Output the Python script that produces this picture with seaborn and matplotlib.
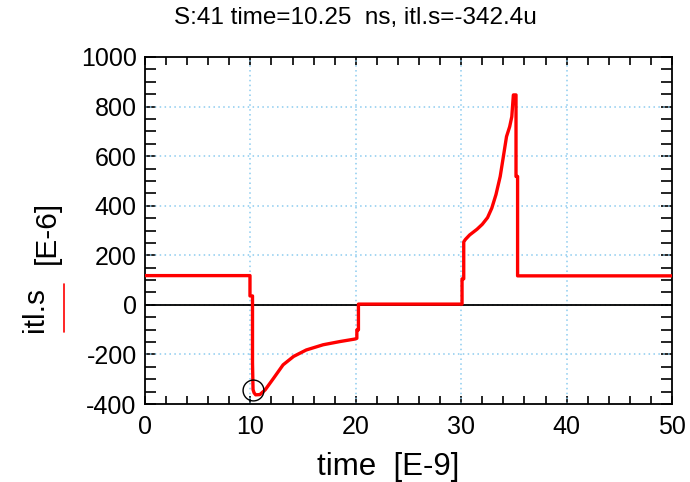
import matplotlib
matplotlib.use("Agg")
import matplotlib.pyplot as plt
from matplotlib.lines import Line2D
from matplotlib.ticker import MultipleLocator
import seaborn as sns
import pandas as pd

# ---- data ----
time_ns = [0, 9.96, 9.96, 10.2, 10.2, 10.25, 10.35, 10.5, 10.9, 11.4, 12.2, 13.1,
           14.1, 15.3, 16.9, 18.5, 19.9, 20.1, 20.1, 20.25, 20.25, 30.08, 30.08,
           30.24, 30.24, 30.4, 30.8, 31.5, 32.0, 32.5, 32.9, 33.3, 33.7, 34.0, 34.3,
           34.6, 34.8, 34.95, 35.2, 35.2, 35.35, 35.35, 50]
itl_s = [118, 118, 36, 36, -233, -342, -355, -363, -362, -343, -296, -242,
         -208, -182, -161, -148, -138, -135, -101, -101, 3, 3, 105,
         105, 254, 264, 282, 305, 325, 352, 390, 445, 518, 598, 679,
         719, 759, 847, 847, 518, 518, 117, 117]
cursor_t = 10.25
cursor_v = -342.4
x_ticks = [0, 10, 20, 30, 40, 50]
y_ticks = [-400, -200, 0, 200, 400, 600, 800, 1000]

df = pd.DataFrame({"time": time_ns, "itl.s": itl_s})

sns.set_theme(style="ticks")
plt.rcParams["font.family"] = ["Liberation Sans", "DejaVu Sans"]
plt.rcParams["axes.unicode_minus"] = False
plt.rcParams["text.color"] = "black"
plt.rcParams["xtick.color"] = "black"
plt.rcParams["ytick.color"] = "black"
plt.rcParams["xtick.labelcolor"] = "black"
plt.rcParams["ytick.labelcolor"] = "black"

W, H = 690, 482
fig = plt.figure(figsize=(W / 100, H / 100), dpi=100)
ax = fig.add_axes([145 / W, 1 - 404 / H, 527 / W, 347 / H])

grid_color = "#8ccbef"
for xv in x_ticks[1:-1]:
    ax.axvline(xv, color=grid_color, lw=1.1, ls=(0, (1, 2.2)), zorder=1)
for yv in y_ticks[1:-1]:
    ax.axhline(yv, color=grid_color, lw=1.1, ls=(0, (1, 2.2)), zorder=1)
ax.axhline(0, color="black", lw=1.3, zorder=2)

sns.lineplot(data=df, x="time", y="itl.s", ax=ax, color="#ff0000", lw=2.4,
             estimator=None, sort=False, zorder=3)
ax.plot([cursor_t], [cursor_v], marker="o", ms=15, mfc="none", mec="black",
        mew=1.0, zorder=4)

ax.set_xlim(x_ticks[0], x_ticks[-1])
ax.set_ylim(y_ticks[0], y_ticks[-1])
ax.set_xticks(x_ticks)
ax.set_yticks(y_ticks)
ax.xaxis.set_minor_locator(MultipleLocator(2))
ax.yaxis.set_minor_locator(MultipleLocator(50))
ax.tick_params(which="both", direction="in", top=True, right=True,
               color="black", width=1.2, labelcolor="black")
ax.tick_params(axis="y", which="both", length=8)
ax.tick_params(axis="x", which="both", length=6)
ax.tick_params(axis="y", labelsize=18, pad=6)
ax.tick_params(axis="x", labelsize=18, pad=8)
ax.set_xlabel("")
ax.set_ylabel("")
for s in ax.spines.values():
    s.set_color("black")
    s.set_linewidth(1.3)

fig.text(355 / W, 1 - 18 / H, "S:41 time=10.25  ns, itl.s=-342.4u",
         ha="center", va="center", fontsize=17.5, color="black")
fig.text(388 / W, 1 - 467 / H, "time  [E-9]", ha="center", va="center",
         fontsize=22.5, color="black")
fig.text(35 / W, 1 - 309 / H, "itl.s", ha="center", va="center",
         rotation=90, fontsize=21.5, color="black")
fig.text(47 / W, 1 - 232 / H, "[E-6]", ha="center", va="center",
         rotation=90, fontsize=21.5, color="black")
fig.add_artist(Line2D([63.5 / W, 63.5 / W], [1 - 284 / H, 1 - 332 / H],
                      color="#ff0000", lw=1.2, transform=fig.transFigure))

fig.savefig("out.png", dpi=100)
